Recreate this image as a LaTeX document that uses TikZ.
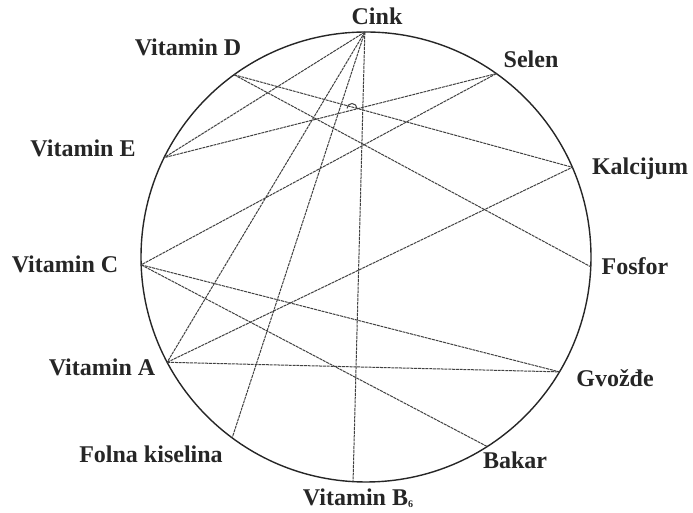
\documentclass[tikz,border=0pt]{standalone}
\usepackage{fontspec}
\setmainfont{Liberation Serif}
\begin{document}
\begin{tikzpicture}[x=1pt,y=1pt,
  lab/.style={font=\fontsize{24}{28}\selectfont\bfseries, inner sep=0pt, anchor=base, text=black!85},
  link/.style={draw=black!75, line width=1pt, dash pattern=on 3pt off 0.8pt},
  rim/.style={draw=black!85, line width=1.4pt}]
\useasboundingbox (0,0) rectangle (693,513);
\coordinate (O) at (366,256);
\draw[rim] (O) circle (225);
\begin{scope}[shift={(366,256)}]
  \coordinate (cink) at (90.3:225);
  \coordinate (vd) at (125.9:225);
  \coordinate (selen) at (54.6:225);
  \coordinate (ve) at (153.8:225);
  \coordinate (kal) at (23.5:225);
  \coordinate (vc) at (182:225);
  \coordinate (fos) at (-2.5:225);
  \coordinate (va) at (207.9:225);
  \coordinate (gvo) at (-30.7:225);
  \coordinate (folna) at (233.5:225);
  \coordinate (bakar) at (-57.4:225);
  \coordinate (vb) at (266.7:225);
\end{scope}
% connectors
\draw[link] (cink) -- (ve);
\draw[link] (cink) -- (va);
\draw[link] (cink) -- (folna);
\draw[link] (cink) -- (vb);
\draw[link] (vd) -- (kal);
\draw[link] (vd) -- (fos);
\draw[link] (selen) -- (ve);
\draw[link] (selen) -- (vc);
\draw[link] (vc) -- (gvo);
\draw[link] (vc) -- (bakar);
\draw[link] (va) -- (kal);
\draw[link] (va) -- (gvo);
\coordinate (hop) at (347,404.5);
\draw[draw=black!75, line width=1pt] (hop) arc (180:0:5);
% labels
\node[lab] (lcink) at (377,488) {Cink};
\node[lab] (lvd) at (188,457) {Vitamin D};
\node[lab] (lselen) at (531,445) {Selen};
\node[lab] (lve) at (83,356) {Vitamin E};
\node[lab] (lkal) at (640,338) {Kalcijum};
\node[lab] (lvc) at (65,240) {Vitamin C};
\node[lab] (lfos) at (635,238) {Fosfor};
\node[lab] (lva) at (102,137) {Vitamin A};
\node[lab] (lgvo) at (615,126) {Gvožđe};
\node[lab] (lfolna) at (151,50) {Folna kiselina};
\node[lab] (lbakar) at (515,44) {Bakar};
\node[lab] (lvb) at (358,7) {Vitamin B\raisebox{-2pt}{\fontsize{10}{10}\selectfont 6}};
\end{tikzpicture}
\end{document}
